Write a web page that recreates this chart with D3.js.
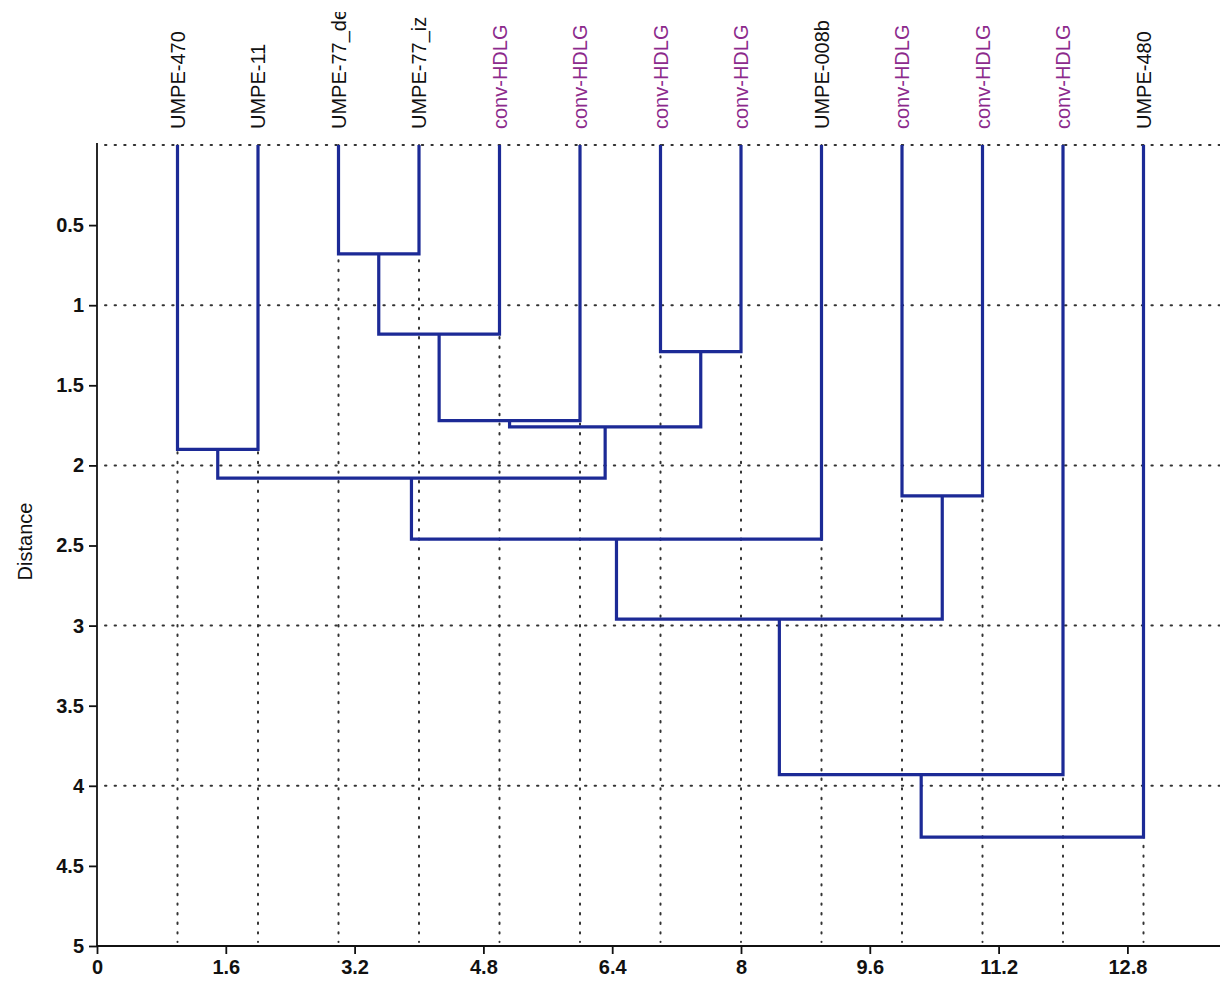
<!DOCTYPE html>
<html>
<head>
<meta charset="utf-8">
<script src="https://cdn.jsdelivr.net/npm/d3@7"></script>
<style>
  body { margin: 0; background: #fff; }
  svg { display: block; font-family: "Liberation Sans", Arial, sans-serif; }
</style>
</head>
<body>
<div class="chart"></div>
<script>
// leaves, left to right
const leafNames = ['UMPE-470', 'UMPE-11', 'UMPE-77_de', 'UMPE-77_iz', 'conv-HDLG', 'conv-HDLG',
  'conv-HDLG', 'conv-HDLG', 'UMPE-008b', 'conv-HDLG', 'conv-HDLG', 'conv-HDLG', 'UMPE-480']
// merges: clusters 0..12 are leaves, each merge makes cluster 13, 14, ...
const mergeA = [2, 13, 6, 14, 16, 0, 18, 9, 19, 21, 22, 23]
const mergeB = [3, 4, 7, 5, 15, 1, 17, 10, 8, 20, 11, 12]
const mergeDist = [0.68, 1.18, 1.29, 1.72, 1.76, 1.90, 2.08, 2.19, 2.46, 2.96, 3.93, 4.32]
const xTicks = [0, 1.6, 3.2, 4.8, 6.4, 8, 9.6, 11.2, 12.8]
const yTicks = [0.5, 1, 1.5, 2, 2.5, 3, 3.5, 4, 4.5, 5]
const gridY = [0, 1, 2, 3, 4]

const width = 1220
const height = 990
const blue = '#1c2a96'
const purple = '#8c2a8c'

const x = d3.scaleLinear().domain([0, 14]).range([97, 97 + 14 * 80.5])
const y = d3.scaleLinear().domain([0, 5]).range([145, 946])

const svg = d3.select('.chart')
  .append('svg')
  .attr('width', width)
  .attr('height', height)

// cluster positions (parent sits midway between its two children)
const pos = leafNames.map((n, i) => ({ x: i + 1, d: 0 }))
mergeA.forEach((a, i) => {
  const b = mergeB[i]
  pos.push({ x: (pos[a].x + pos[b].x) / 2, d: mergeDist[i] })
})

// dotted grid
const grid = svg.append('g')
  .attr('stroke', '#333')
  .attr('stroke-width', 2)
  .attr('stroke-dasharray', '1.4,8.2')
  .attr('stroke-linecap', 'round')

grid.selectAll('line.h')
  .data(gridY)
  .join('line')
  .attr('class', 'h')
  .attr('x1', x(0) + 8)
  .attr('x2', width)
  .attr('y1', d => y(d))
  .attr('y2', d => y(d))

grid.selectAll('line.v')
  .data(leafNames.map((n, i) => i + 1))
  .join('line')
  .attr('class', 'v')
  .attr('x1', d => x(d))
  .attr('x2', d => x(d))
  .attr('y1', y(0))
  .attr('y2', y(5) - 4)

// dendrogram links
const links = svg.append('g')
  .attr('fill', 'none')
  .attr('stroke', blue)
  .attr('stroke-width', 3.2)

links.selectAll('path')
  .data(mergeA.map((a, i) => ({ a: pos[a], b: pos[mergeB[i]], d: mergeDist[i] })))
  .join('path')
  .attr('d', d =>
    'M ' + x(d.a.x) + ' ' + y(d.a.d) +
    ' L ' + x(d.a.x) + ' ' + y(d.d) +
    ' L ' + x(d.b.x) + ' ' + y(d.d) +
    ' L ' + x(d.b.x) + ' ' + y(d.b.d))

// axes
const yAxis = svg.append('g')
  .attr('transform', `translate(${x(0)},0)`)
  .call(d3.axisLeft(y).tickValues(yTicks).tickSize(8).tickPadding(5).tickFormat(d3.format('')))
yAxis.select('.domain').attr('d', `M0,${y(0) - 2}V${y(5)}`)

const xAxis = svg.append('g')
  .attr('transform', `translate(0,${y(5)})`)
  .call(d3.axisBottom(x).tickValues(xTicks).tickSize(8).tickPadding(6).tickFormat(d3.format('')))
xAxis.select('.domain').attr('d', `M${x(0)},0H${width}`)

svg.selectAll('.domain, .tick line').attr('stroke', '#111').attr('stroke-width', 1.8)
svg.selectAll('.tick text')
  .attr('fill', '#111')
  .attr('font-size', 20)
  .attr('font-weight', 'bold')
  .attr('font-family', '"Liberation Sans", Arial, sans-serif')

svg.append('text')
  .attr('transform', `translate(32,${(y(0) + y(5)) / 2 - 4}) rotate(-90)`)
  .attr('text-anchor', 'middle')
  .attr('font-size', 20)
  .attr('fill', '#111')
  .text('Distance')

// leaf labels, clipped like the original
svg.append('clipPath')
  .attr('id', 'lab-clip')
  .append('rect')
  .attr('x', 0)
  .attr('y', 12)
  .attr('width', width)
  .attr('height', 127)

svg.append('g')
  .attr('clip-path', 'url(#lab-clip)')
  .selectAll('text')
  .data(leafNames)
  .join('text')
  .attr('transform', (d, i) => `translate(${x(i + 1) + 7},129) rotate(-90)`)
  .attr('font-size', 20)
  .attr('fill', d => d.startsWith('conv') ? purple : '#111')
  .text(d => d)
</script>
</body>
</html>
